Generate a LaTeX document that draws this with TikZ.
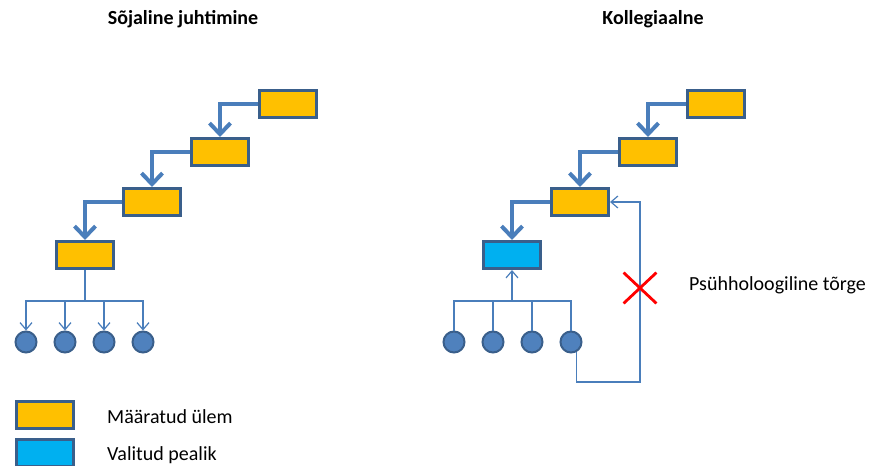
\documentclass[tikz,border=0pt]{standalone}
\usepackage{fontspec}
\setmainfont{Carlito}
\usetikzlibrary{arrows.meta,shapes.misc}

\definecolor{bossfill}{HTML}{FFC000}
\definecolor{chiefill}{HTML}{00B0F0}
\definecolor{frame}{HTML}{3A5F8B}
\definecolor{link}{HTML}{4A7EBB}
\definecolor{member}{HTML}{4F81BD}

\tikzset{
  post/.style={rectangle, draw=frame, line width=3pt, fill=bossfill,
    minimum width=57pt, minimum height=27pt, inner sep=0pt},
  chief/.style={post, fill=chiefill},
  person/.style={circle, draw=frame, line width=2pt, fill=member,
    minimum size=21pt, inner sep=0pt},
  order/.style={draw=link, line width=4pt,
    -{Straight Barb[length=11pt,width=21pt]}},
  wire/.style={draw=link, line width=1.2pt},
  wirearrow/.style={wire, -{Straight Barb[length=7pt,width=12pt]}},
  caption/.style={font=\fontsize{20}{24}\selectfont, anchor=west, inner sep=0pt}
}

\begin{document}
\begin{tikzpicture}[x=1pt,y=-1pt]
  \useasboundingbox (0,0) rectangle (871,466);

  % titles
  \node[font=\bfseries\fontsize{20}{24}\selectfont] (s) at (183,19) {Sõjaline juhtimine};
  \node[font=\bfseries\fontsize{20}{24}\selectfont] (k) at (653,19) {Kollegiaalne};

  % left chain
  \node[post] (a1) at (288,104) {};
  \node[post] (a2) at (220,152) {};
  \node[post] (a3) at (152,202) {};
  \node[post] (a4) at (85,255) {};

  \draw[order] (a1.west) -| (a2.north);
  \draw[order] (a2.west) -| (a3.north);
  \draw[order] (a3.west) -| (a4.north);

  \foreach \i/\x in {1/26,2/65,3/104,4/143}
    \node[person] (c\i) at (\x,342) {};

  \coordinate (lbus) at (85,301);
  \draw[wire] (a4.south) -- (lbus);
  \foreach \i in {1,...,4}
    \draw[wirearrow] (lbus) -| (c\i.north);

  % right chain
  \node[post] (b1) at (716,104) {};
  \node[post] (b2) at (648,152) {};
  \node[post] (b3) at (580,202) {};
  \node[chief] (b4) at (512,255) {};

  \draw[order] (b1.west) -| (b2.north);
  \draw[order] (b2.west) -| (b3.north);
  \draw[order] (b3.west) -| (b4.north);

  \foreach \i/\x in {1/454,2/493,3/532,4/571}
    \node[person] (d\i) at (\x,342) {};

  \coordinate (rbus) at (512,301);
  \foreach \i in {1,...,4}
    \draw[wire] (d\i.north) |- (rbus);
  \draw[wirearrow] (rbus) -- (b4.south);

  % feedback path
  \coordinate (fb) at (640,382);
  \draw[wirearrow] (d4.-60) |- (fb) |- (b3.east);

  \node[cross out, draw=red, line width=2.8pt, minimum width=30pt, minimum height=28pt] (x) at (640,288) {};
  \node[caption] (psy) at (689,285) {Psühholoogiline tõrge};

  % legend
  \node[post] (l1) at (45,415) {};
  \node[chief] (l2) at (45,453) {};
  \node[caption] (t1) at (107,417) {Määratud ülem};
  \node[caption] (t2) at (107,455) {Valitud pealik};
\end{tikzpicture}
\end{document}
